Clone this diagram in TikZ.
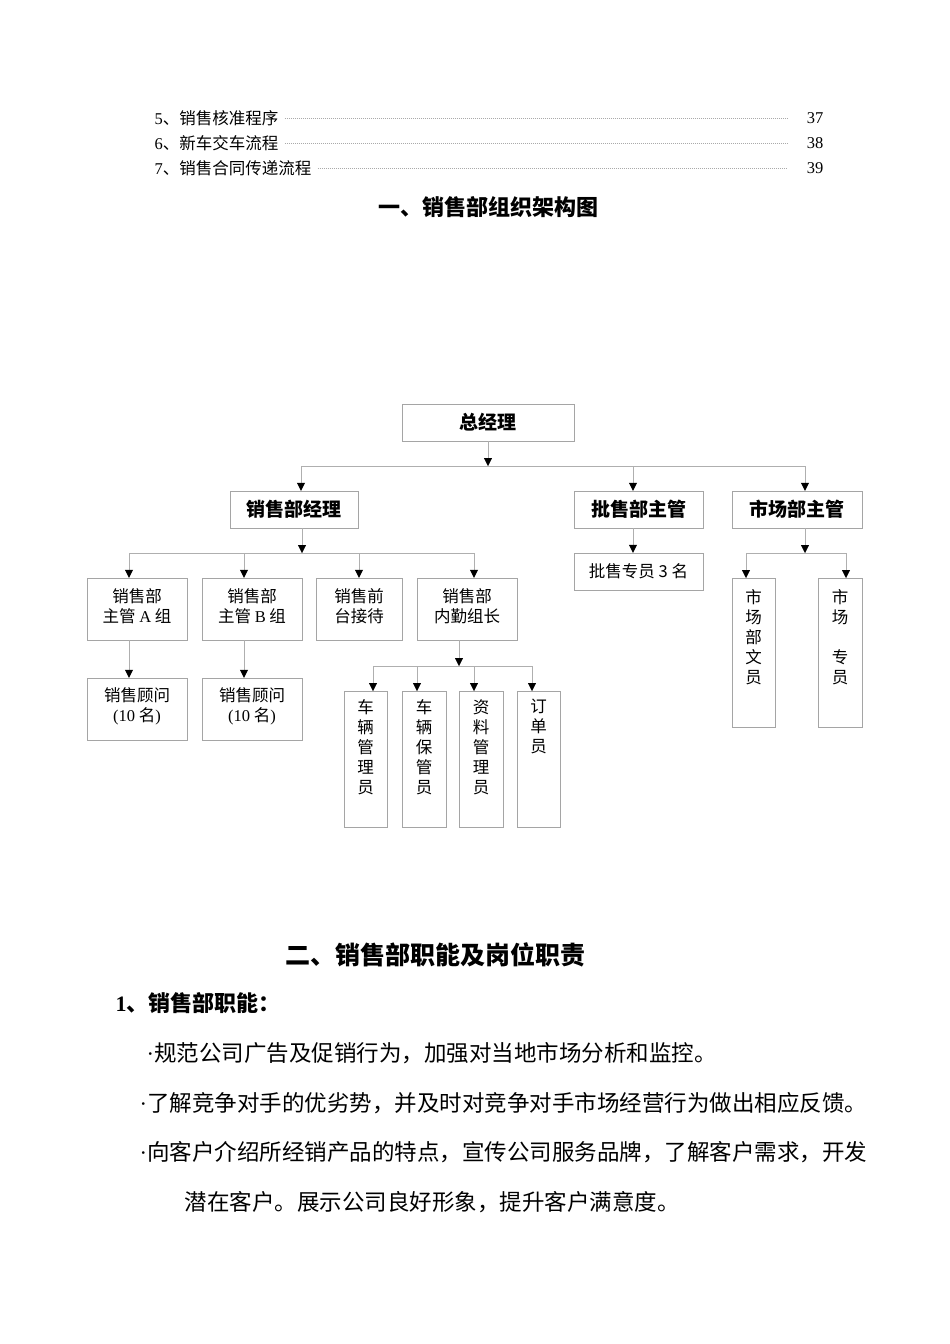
\documentclass[tikz,border=0pt]{standalone}
\usepackage{fontspec}
\setmainfont{Liberation Serif}
\newfontfamily\cjk{Noto Sans CJK SC}
\usetikzlibrary{arrows.meta}
\definecolor{FrameGray}{RGB}{165,165,165}
\definecolor{WireGray}{RGB}{175,175,175}
\definecolor{DotGray}{RGB}{170,170,170}
\newcommand{\pxsize}[2]{\fontsize{#1}{#2}\selectfont}
\newcommand{\lat}[1]{{\rmfamily #1}}
\newcommand{\colstack}[3]{\parbox[c][#1pt][t]{30pt}{\centering\vspace*{#2pt}#3}}
\newcommand{\twolines}[1]{\parbox[c][62pt][c]{80pt}{\centering #1\par\vspace{6pt}}}

\begin{document}
\begin{tikzpicture}[
    x=1pt, y=-1pt,
    head/.style={
        draw=FrameGray, minimum height=37pt, inner sep=0pt,
        font=\cjk\bfseries\pxsize{19}{23}
    },
    unit/.style={
        draw=FrameGray, minimum height=62pt, inner sep=0pt,
        align=center, font=\cjk\pxsize{16.5}{20}
    },
    column/.style={
        draw=FrameGray, inner sep=0pt, anchor=north,
        font=\cjk\pxsize{16.5}{20}
    },
    link/.style={
        draw=WireGray, -{Triangle[width=8pt,length=8pt,color=black]}
    },
    bus/.style={
        draw=WireGray
    },
    leader/.style={
        draw=DotGray, line width=0.6pt, dash pattern=on 0.8pt off 1.2pt
    },
    tocline/.style={
        anchor=west, font=\cjk\pxsize{16.5}{20}
    },
    pagenum/.style={
        anchor=east, font=\pxsize{16.5}{20}
    },
    heading/.style={
        font=\cjk\bfseries\pxsize{22}{26}
    },
    bodyline/.style={
        anchor=west, font=\cjk\pxsize{22.5}{27}
    }
]
\fill[white] (0,0) rectangle (950,1344);
\useasboundingbox (0,0) rectangle (950,1344);

% ====== SOMMAIRE ======
\node[tocline] (toc5) at (151,118) {\lat{5}、销售核准程序};
\node[tocline] (toc6) at (151,143) {\lat{6}、新车交车流程};
\node[tocline] (toc7) at (151,168) {\lat{7}、销售合同传递流程};
\node[pagenum] (pg5) at (827,118) {37};
\node[pagenum] (pg6) at (827,143) {38};
\node[pagenum] (pg7) at (827,168) {39};
\foreach \n in {5,6,7}
    \draw[leader] ([xshift=3pt]toc\n.east) -- ([xshift=-16pt]pg\n.west);

\node[heading] (orgtitle) at (488,207) {一、销售部组织架构图};

% ====== NIVEAU 1 ======
\node[head, minimum width=172pt] (gm) at (488,422.5) {总经理};

% ====== NIVEAU 2 ======
\node[head, minimum width=128pt] (salesmgr)  at (294,509.5)   {销售部经理};
\node[head, minimum width=129pt] (wholesale) at (638.5,509.5) {批售部主管};
\node[head, minimum width=130pt] (market)    at (797,509.5)   {市场部主管};

% ====== NIVEAU 3 ======
\node[unit, minimum width=100pt] (grpA)   at (137,609) {\twolines{销售部\\主管 \lat{A} 组}};
\node[unit, minimum width=100pt] (grpB)   at (252,609) {\twolines{销售部\\主管 \lat{B} 组}};
\node[unit, minimum width=86pt]  (front)  at (359,609) {\twolines{销售前\\台接待}};
\node[unit, minimum width=100pt] (office) at (467,609) {\twolines{销售部\\内勤组长}};
\node[unit, minimum width=129pt, minimum height=37pt] (wsstaff) at (638.5,571.5) {批售专员 3 名};
\node[column, minimum width=43pt] (mkclerk) at (753.5,578) {\colstack{149}{11}{市\\场\\部\\文\\员}};
\node[column, minimum width=44pt] (mkstaff) at (840,578)   {\colstack{149}{11}{市\\场\\\mbox{}\\专\\员}};

% ====== NIVEAU 4 ======
\node[unit, minimum width=100pt] (advA) at (137,709) {\twolines{销售顾问\\\lat{(10} 名\lat{)}}};
\node[unit, minimum width=100pt] (advB) at (252,709) {\twolines{销售顾问\\\lat{(10} 名\lat{)}}};
\node[column, minimum width=43pt] (vehmgr)   at (365.5,691) {\colstack{136}{8}{车\\辆\\管\\理\\员}};
\node[column, minimum width=44pt] (vehkeep)  at (424,691)   {\colstack{136}{8}{车\\辆\\保\\管\\员}};
\node[column, minimum width=44pt] (docmgr)   at (481,691)   {\colstack{136}{8}{资\\料\\管\\理\\员}};
\node[column, minimum width=43pt] (orderclk) at (538.5,691) {\colstack{136}{8}{订\\单\\员}};

% ====== LIAISONS ======
% total -> niveau 2
\coordinate (tb0) at (488,466);
\coordinate (tb1) at (301,466);
\coordinate (tb2) at (633,466);
\coordinate (tb3) at (805,466);
\draw[link] (gm.south) -- (tb0);
\draw[bus] (tb1) -- (tb3);
\foreach \t/\n in {tb1/salesmgr, tb2/wholesale, tb3/market}
    \draw[link] (\t) -- (\t |- \n.north);

% pifa
\draw[link] (tb2 |- wholesale.south) -- (tb2 |- wsstaff.north);

% shichang
\coordinate (mb0) at (805,553);
\coordinate (mb1) at (746,553);
\coordinate (mb2) at (846,553);
\draw[link] (mb0 |- market.south) -- (mb0);
\draw[bus] (mb1) -- (mb2);
\foreach \t/\n in {mb1/mkclerk, mb2/mkstaff}
    \draw[link] (\t) -- (\t |- \n.north);

% xiaoshou
\coordinate (sb0) at (302,553);
\coordinate (sb1) at (129,553);
\coordinate (sb2) at (244,553);
\coordinate (sb3) at (359,553);
\coordinate (sb4) at (474,553);
\draw[link] (sb0 |- salesmgr.south) -- (sb0);
\draw[bus] (sb1) -- (sb4);
\foreach \t/\n in {sb1/grpA, sb2/grpB, sb3/front, sb4/office}
    \draw[link] (\t) -- (\t |- \n.north);
\draw[link] (sb1 |- grpA.south) -- (sb1 |- advA.north);
\draw[link] (sb2 |- grpB.south) -- (sb2 |- advB.north);

% neiqin
\coordinate (ob0) at (459,666);
\coordinate (ob1) at (373,666);
\coordinate (ob2) at (417,666);
\coordinate (ob3) at (474,666);
\coordinate (ob4) at (532,666);
\draw[link] (ob0 |- office.south) -- (ob0);
\draw[bus] (ob1) -- (ob4);
\foreach \t/\n in {ob1/vehmgr, ob2/vehkeep, ob3/docmgr, ob4/orderclk}
    \draw[link] (\t) -- (\t |- \n.north);

% ====== FONCTIONS ======
\node[heading, font=\cjk\bfseries\pxsize{25}{30}] (dutytitle) at (435,955) {二、销售部职能及岗位职责};
\node[heading, anchor=west] (dutysub) at (112,1003) {\lat{1}、销售部职能：};
\node[bodyline] (duty1) at (143,1053) {\lat{·}规范公司广告及促销行为，加强对当地市场分析和监控。};
\node[bodyline] (duty2) at (136,1103) {\lat{·}了解竞争对手的优劣势，并及时对竞争对手市场经营行为做出相应反馈。};
\node[bodyline] (duty3) at (136,1152) {\lat{·}向客户介绍所经销产品的特点，宣传公司服务品牌，了解客户需求，开发};
\node[bodyline] (duty4) at (181,1202) {潜在客户。展示公司良好形象，提升客户满意度。};

\end{tikzpicture}
\end{document}
